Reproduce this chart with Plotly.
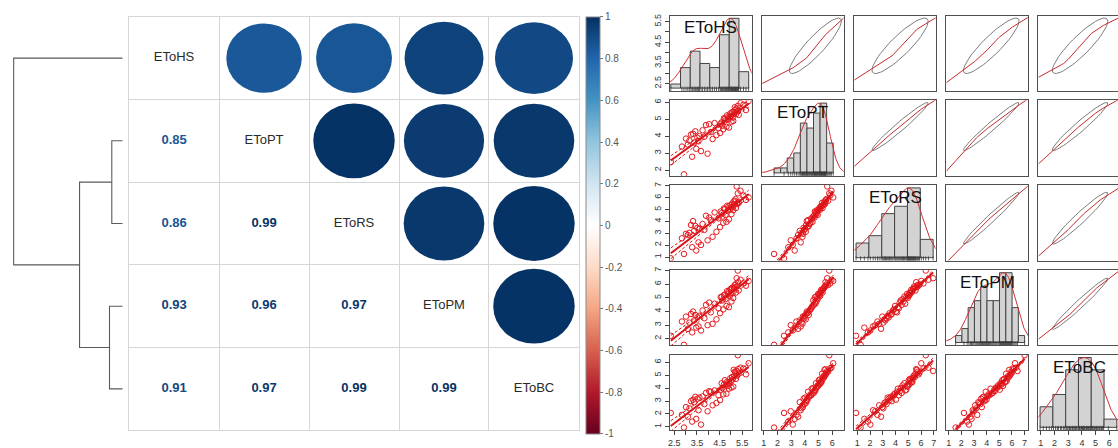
import numpy as np
import plotly.graph_objects as go

W, H = 1118, 448
FONT = "Liberation Sans, Arial, sans-serif"

names = ["EToHS", "EToPT", "EToRS", "EToPM", "EToBC"]

# lower triangle of the correlation matrix (row i, columns 0..i-1)
corr_lower = [
    [],
    [0.85],
    [0.86, 0.99],
    [0.93, 0.96, 0.97],
    [0.91, 0.97, 0.99, 0.99],
]

# hierarchical clustering: merged pairs (new nodes numbered 5, 6, ...) and merge heights
merge_pairs = [(1, 2), (3, 4), (5, 6), (0, 7)]
merge_heights = [0.107, 0.13, 0.43, 1.09]

colorbar_ticks = [-1, -0.8, -0.6, -0.4, -0.2, 0, 0.2, 0.4, 0.6, 0.8, 1]
colorbar_labels = ["-1", "-0.8", "-0.6", "-0.4", "-0.2", "0", "0.2", "0.4", "0.6", "0.8", "1"]

# daily reference evapotranspiration by method (mm/day)
eto_hs = [3.29, 2.93, 3.68, 2.35, 3.47, 3.97, 3.10, 3.57, 2.84, 4.19,
          3.38, 3.17, 3.83, 3.02, 4.36, 3.52, 3.24, 3.61, 4.52, 3.43,
          3.33, 4.66, 4.11, 3.75, 4.80, 4.45, 3.90, 4.91, 4.04, 4.62,
          4.28, 5.02, 4.55, 4.76, 4.59, 5.10, 4.69, 4.86, 4.95, 4.73,
          4.89, 5.07, 4.83, 5.22, 5.00, 5.15, 5.34, 4.97, 5.27, 5.05,
          5.66, 5.12, 5.20, 5.32, 5.17, 5.55, 5.25, 5.78, 5.30, 5.42]
eto_pt = [2.79, 1.75, 3.12, 2.48, 3.26, 2.97, 3.51, 3.70, 3.39, 3.83,
          3.63, 3.75, 3.97, 3.86, 4.07, 3.91, 4.10, 4.01, 4.19, 4.29,
          4.14, 4.41, 4.24, 4.35, 4.56, 4.47, 4.66, 4.51, 4.71, 4.62,
          4.78, 4.85, 4.74, 4.94, 4.82, 4.90, 5.06, 4.98, 5.13, 5.03,
          5.17, 5.10, 5.23, 5.30, 5.20, 5.37, 5.26, 5.34, 5.47, 5.42,
          5.54, 5.44, 5.58, 5.51, 5.71, 5.86, 5.64, 6.08, 5.79, 5.95]
eto_rs = [1.83, 1.26, 2.02, 0.90, 1.55, 2.41, 2.86, 2.24, 2.58, 2.71,
          3.21, 3.04, 3.29, 2.96, 3.13, 3.46, 3.70, 3.38, 3.53, 3.62,
          4.03, 3.88, 4.11, 3.79, 3.96, 4.26, 4.48, 4.18, 4.33, 4.41,
          4.76, 4.62, 4.84, 4.55, 4.69, 4.95, 5.09, 4.91, 5.00, 5.04,
          5.27, 5.18, 5.32, 5.13, 5.23, 5.41, 5.56, 5.37, 5.46, 5.51,
          5.81, 5.68, 5.88, 5.62, 5.74, 6.19, 6.95, 6.02, 6.37, 6.58]
eto_pm = [2.46, 1.55, 2.60, 2.21, 2.81, 2.99, 2.72, 2.90, 3.26, 3.09,
          3.34, 3.18, 3.50, 3.62, 3.42, 3.56, 3.81, 3.68, 3.87, 3.74,
          3.99, 4.15, 3.93, 4.07, 4.40, 4.23, 4.48, 4.31, 4.65, 4.81,
          4.57, 4.73, 5.04, 4.90, 5.09, 4.98, 5.19, 5.29, 5.14, 5.24,
          5.44, 5.34, 5.49, 5.39, 5.59, 5.69, 5.54, 5.64, 5.84, 5.74,
          5.89, 5.79, 5.99, 6.15, 5.94, 6.06, 6.44, 6.24, 7.00, 6.33]
eto_bc = [1.41, 0.95, 1.18, 2.08, 1.62, 2.21, 1.79, 2.29, 1.93, 2.67,
          2.91, 2.44, 2.76, 2.53, 2.85, 3.18, 2.99, 3.27, 3.07, 3.33,
          3.11, 3.52, 3.72, 3.36, 3.57, 3.45, 3.63, 3.96, 3.77, 4.01,
          3.82, 4.04, 3.88, 4.21, 4.38, 4.12, 4.29, 4.17, 4.35, 4.62,
          4.44, 4.67, 4.49, 4.72, 4.57, 4.93, 5.12, 4.77, 4.98, 4.86,
          5.07, 5.42, 5.19, 5.47, 5.28, 5.53, 5.33, 5.93, 6.55, 5.59]

series = [eto_hs, eto_pt, eto_rs, eto_pm, eto_bc]
hist_bins = [8, 9, 6, 11, 6]

# axis ticks of the scatter-plot matrix (bottom row / left column)
x_tick_vals = [[2.5, 3, 3.5, 4, 4.5, 5, 5.5], [1, 2, 3, 4, 5, 6], [1, 2, 3, 4, 5, 6, 7],
               [1, 2, 3, 4, 5, 6, 7], [1, 2, 3, 4, 5, 6]]
x_tick_text = [["2.5", "", "3.5", "", "4.5", "", "5.5"], ["1", "2", "3", "4", "5", "6"],
               ["1", "2", "3", "4", "5", "6", "7"], ["1", "2", "3", "4", "5", "6", "7"],
               ["1", "2", "3", "4", "5", "6"]]
y_tick_vals = [[2.5, 3, 3.5, 4, 4.5, 5, 5.5], [2, 3, 4, 5, 6], [1, 2, 3, 4, 5, 6, 7],
               [2, 3, 4, 5, 6, 7], [1, 2, 3, 4, 5, 6]]
y_tick_text = [["2.5", "", "3.5", "", "4.5", "", "5.5"], ["2", "3", "4", "5", "6"],
               ["1", "2", "3", "4", "5", "6", "7"], ["2", "3", "4", "5", "6", "7"],
               ["1", "2", "3", "4", "5", "6"]]

# axis extents of each column (x) and row (y) in the scatter-plot matrix
col_ranges = [[2.32, 5.91], [0.88, 6.85], [0.76, 7.16], [0.82, 7.26], [0.83, 6.78]]
row_ranges = [[2.14, 5.80], [1.67, 6.12], [0.71, 7.06], [1.51, 7.05], [0.75, 6.59]]

# correlation ellipses are drawn at this many standard deviations
ELLIPSE_SD = 1.5

corr_palette = ["#67001F", "#B2182B", "#D6604D", "#F4A582", "#FDDBC7", "#FFFFFF",
                "#D1E5F0", "#92C5DE", "#4393C3", "#2166AC", "#053061"]
colorscale = [[k / 10, c] for k, c in enumerate(corr_palette)]


def color_at(v):
    t = (v + 1) / 2 * 10
    k = min(int(np.floor(t)), 9)
    f = t - k
    c0 = [int(corr_palette[k][i:i + 2], 16) for i in (1, 3, 5)]
    c1 = [int(corr_palette[k + 1][i:i + 2], 16) for i in (1, 3, 5)]
    c = [round(a + (b - a) * f) for a, b in zip(c0, c1)]
    return f"rgb({c[0]},{c[1]},{c[2]})"


def lowess(x, y, frac=2 / 3):
    x = np.asarray(x, float)
    y = np.asarray(y, float)
    order = np.argsort(x, kind="stable")
    xs, ys = x[order], y[order]
    n = len(xs)
    k = int(np.ceil(frac * n))
    fit = np.empty(n)
    for i in range(n):
        d = np.abs(xs - xs[i])
        h = np.sort(d)[k - 1]
        w = np.clip(1 - (d / h) ** 3, 0, None) ** 3
        sw = w.sum()
        mx = (w * xs).sum() / sw
        my = (w * ys).sum() / sw
        sxx = (w * (xs - mx) ** 2).sum()
        b = (w * (xs - mx) * (ys - my)).sum() / sxx if sxx > 0 else 0.0
        fit[i] = my + b * (xs[i] - mx)
    return xs, fit


def linear_fit(x, y):
    x = np.asarray(x, float)
    y = np.asarray(y, float)
    n = len(x)
    b, a = np.polyfit(x, y, 1)
    s = np.sqrt(((y - (a + b * x)) ** 2).sum() / (n - 2))
    xg = np.linspace(x.min(), x.max(), 40)
    se = s * np.sqrt(1 / n + (xg - x.mean()) ** 2 / ((x - x.mean()) ** 2).sum())
    yg = a + b * xg
    return xg, yg, yg - 2.0 * se, yg + 2.0 * se


def density_curve(x):
    x = np.asarray(x, float)
    n = len(x)
    q75, q25 = np.percentile(x, [75, 25])
    bw = 1.06 * min(x.std(ddof=1), (q75 - q25) / 1.34) * n ** -0.2
    grid = np.linspace(x.min() - 3 * bw, x.max() + 3 * bw, 200)
    dens = np.exp(-0.5 * ((grid[:, None] - x[None, :]) / bw) ** 2).sum(axis=1)
    return grid, dens / dens.max()


def ellipse(x, y):
    x = np.asarray(x, float)
    y = np.asarray(y, float)
    r = np.corrcoef(x, y)[0, 1]
    theta = np.sign(r) / np.sqrt(2)
    ang = np.arange(52) * 2 * np.pi / 51
    unit = np.column_stack([np.cos(ang), np.sin(ang)])
    shape = np.diag([np.sqrt(1 + r), np.sqrt(1 - r)]) @ np.array([[theta, theta], [-theta, theta]])
    e = unit @ shape * ELLIPSE_SD
    return e[:, 0] * x.std(ddof=1) + x.mean(), e[:, 1] * y.std(ddof=1) + y.mean()


fig = go.Figure()
axes_layout = {}


def add_axes(n, left, right, top, bottom, xrange, yrange, xextra=None, yextra=None):
    xk, yk = ("xaxis", "yaxis") if n == 1 else (f"xaxis{n}", f"yaxis{n}")
    xr, yr = ("x", "y") if n == 1 else (f"x{n}", f"y{n}")
    # a panel running past the right edge keeps its scale and is cut off
    if right > W:
        f = (W - left) / (right - left)
        xrange = [xrange[0], xrange[0] + (xrange[1] - xrange[0]) * f]
        right = W
    base = dict(showgrid=False, zeroline=False, showticklabels=False, ticks="", fixedrange=True)
    xa = dict(base, domain=[left / W, right / W], range=xrange, anchor=yr)
    ya = dict(base, domain=[1 - bottom / H, 1 - top / H], range=yrange, anchor=xr)
    if xextra:
        xa.update(xextra)
    if yextra:
        ya.update(yextra)
    axes_layout[xk] = xa
    axes_layout[yk] = ya
    return xr, yr


# ---- dendrogram ----
dx, dy = add_axes(1, 0, 127.3, 14, 434, [1.207, -0.066], [4.5, -0.5])
node_y = {i: float(i) for i in range(5)}
node_h = {i: 0.0 for i in range(5)}
seg_x, seg_y = [], []
for m, ((a, b), h) in enumerate(zip(merge_pairs, merge_heights)):
    seg_x += [node_h[a], h, h, node_h[b], None]
    seg_y += [node_y[a], node_y[a], node_y[b], node_y[b], None]
    node_y[5 + m] = (node_y[a] + node_y[b]) / 2
    node_h[5 + m] = h
fig.add_trace(go.Scatter(x=seg_x, y=seg_y, mode="lines", line=dict(color="#5a5a5a", width=1.1),
                         xaxis=dx, yaxis=dy, hoverinfo="skip"))

# ---- correlation matrix ----
grid_opts = dict(showgrid=True, gridcolor="#d6d6d6", gridwidth=1,
                 tickvals=[k - 0.5 for k in range(6)], showline=True, mirror=True,
                 linecolor="#d6d6d6", linewidth=1)
cx, cy = add_axes(2, 127.3, 578, 14, 434, [-0.5, 4.5], [4.5, -0.5], grid_opts, grid_opts)

R = np.eye(5)
for i, row in enumerate(corr_lower):
    for j, v in enumerate(row):
        R[i, j] = R[j, i] = v

shapes = []
ux, uy, uv = [], [], []
for i in range(5):
    for j in range(i + 1, 5):
        r = R[i, j]
        rad = 0.455 * np.sqrt(abs(r))
        shapes.append(dict(type="circle", xref=cx, yref=cy, x0=j - rad, x1=j + rad,
                           y0=i - rad, y1=i + rad, fillcolor=color_at(r),
                           line=dict(width=0), layer="above"))
        ux.append(j)
        uy.append(i)
        uv.append(r)

fig.add_trace(go.Scatter(
    x=ux, y=uy, mode="markers", xaxis=cx, yaxis=cy, hoverinfo="skip",
    marker=dict(size=1, color=uv, colorscale=colorscale, cmin=-1, cmax=1, showscale=True,
                colorbar=dict(x=584.7 / W, xanchor="left", y=1 - 226 / H, yanchor="middle",
                              len=424 / H, lenmode="fraction", thickness=14, xpad=0, ypad=0,
                              outlinewidth=1, outlinecolor="#8a8a8a",
                              tickvals=colorbar_ticks, ticktext=colorbar_labels,
                              ticks="outside", ticklen=3, tickcolor="#777",
                              tickfont=dict(family=FONT, size=10, color="#555"))),
))

lx, ly, lv = [], [], []
for i in range(5):
    for j in range(i):
        lx.append(j)
        ly.append(i)
        lv.append(R[i, j])
fig.add_trace(go.Scatter(
    x=lx, y=ly, mode="text", text=[f"{v:.2f}" for v in lv], xaxis=cx, yaxis=cy,
    hoverinfo="skip",
    textfont=dict(family=FONT, size=13, color=[color_at(v) for v in lv], weight="bold")))
fig.add_trace(go.Scatter(
    x=list(range(5)), y=list(range(5)), mode="text", text=names, xaxis=cx, yaxis=cy,
    hoverinfo="skip", textfont=dict(family=FONT, size=13, color="#2a2a2a")))

# ---- scatter-plot matrix ----
PW, PH = 81.7, 76.6
RED = "#e5191e"
annotations = []
frame = dict(showline=True, mirror=True, linecolor="#505050", linewidth=1.2)
tick_style = dict(ticks="outside", ticklen=4, tickwidth=1, tickcolor="#444", showticklabels=True,
                  tickfont=dict(family=FONT, size=9, color="#333"))
for i in range(5):
    for j in range(5):
        n = 3 + i * 5 + j
        left = 669.3 + 92.25 * j
        top = 12.7 + 86.15 * i
        xe = dict(frame)
        ye = dict(frame)
        if j == 4:
            ye["mirror"] = False
        if i == 4:
            xe.update(tick_style, tickvals=x_tick_vals[j], ticktext=x_tick_text[j])
        if j == 0 and i != 0:
            ye.update(tick_style, tickvals=y_tick_vals[i], ticktext=y_tick_text[i], tickangle=-90)
        xv = np.asarray(series[j], float)
        yv = np.asarray(series[i], float)
        if i == j:
            if j == 0:
                # HS ticks on the left edge of the first histogram panel
                lo_, hi_ = row_ranges[0]
                ye.update(tick_style, tickangle=-90, ticktext=y_tick_text[0],
                          tickvals=[(v - lo_) / (hi_ - lo_) * 1.08 - 0.04 for v in y_tick_vals[0]])
            px_, py_ = add_axes(n, left, left + PW, top, top + PH, col_ranges[j], [-0.04, 1.04], xe, ye)
            counts, edges = np.histogram(xv, bins=hist_bins[j])
            fig.add_trace(go.Bar(x=(edges[:-1] + edges[1:]) / 2, y=counts / counts.max(),
                                 width=np.diff(edges), xaxis=px_, yaxis=py_, hoverinfo="skip",
                                 marker=dict(color="#d3d3d3", line=dict(color="#444", width=1))))
            gx, gy = density_curve(xv)
            fig.add_trace(go.Scatter(x=gx, y=gy, mode="lines", xaxis=px_, yaxis=py_,
                                     line=dict(color="#d03030", width=1), hoverinfo="skip"))
            fig.add_trace(go.Scatter(x=xv, y=[-0.02] * len(xv), mode="markers", xaxis=px_,
                                     yaxis=py_, hoverinfo="skip",
                                     marker=dict(symbol="line-ns-open", size=4, color="#333",
                                                 line=dict(color="#333", width=0.8))))
            annotations.append(dict(x=(left + PW / 2) / W, y=1 - (top + 12.5) / H, xref="paper",
                                    yref="paper", text=names[j], showarrow=False,
                                    font=dict(family=FONT, size=17, color="#111"),
                                    xanchor="center", yanchor="middle"))
        elif i > j:
            px_, py_ = add_axes(n, left, left + PW, top, top + PH, col_ranges[j], row_ranges[i], xe, ye)
            fig.add_trace(go.Scatter(x=xv, y=yv, mode="markers", xaxis=px_, yaxis=py_,
                                     hoverinfo="skip",
                                     marker=dict(symbol="circle-open", size=5.5, color=RED,
                                                 line=dict(color=RED, width=1))))
            xg, yg, lo, hi = linear_fit(xv, yv)
            for band in (lo, hi):
                fig.add_trace(go.Scatter(x=xg, y=band, mode="lines", xaxis=px_, yaxis=py_,
                                         hoverinfo="skip",
                                         line=dict(color="#d81418", width=1, dash="3px,2px")))
            fig.add_trace(go.Scatter(x=xg, y=yg, mode="lines", xaxis=px_, yaxis=py_,
                                     hoverinfo="skip", line=dict(color="#d81418", width=2)))
        else:
            px_, py_ = add_axes(n, left, left + PW, top, top + PH,
                                [xv.min(), xv.max()], [yv.min(), yv.max()], xe, ye)
            ex, ey = ellipse(xv, yv)
            fig.add_trace(go.Scatter(x=ex, y=ey, mode="lines", xaxis=px_, yaxis=py_,
                                     hoverinfo="skip", line=dict(color="#7d7d7d", width=1)))
            sx, sy = lowess(xv, yv)
            fig.add_trace(go.Scatter(x=sx, y=sy, mode="lines", xaxis=px_, yaxis=py_,
                                     hoverinfo="skip", line=dict(color="#c42b2b", width=1)))

fig.update_layout(
    width=W, height=H, margin=dict(l=0, r=0, t=0, b=0),
    paper_bgcolor="white", plot_bgcolor="white", showlegend=False,
    font=dict(family=FONT), shapes=shapes, annotations=annotations, **axes_layout)

fig.write_html("out.html")
